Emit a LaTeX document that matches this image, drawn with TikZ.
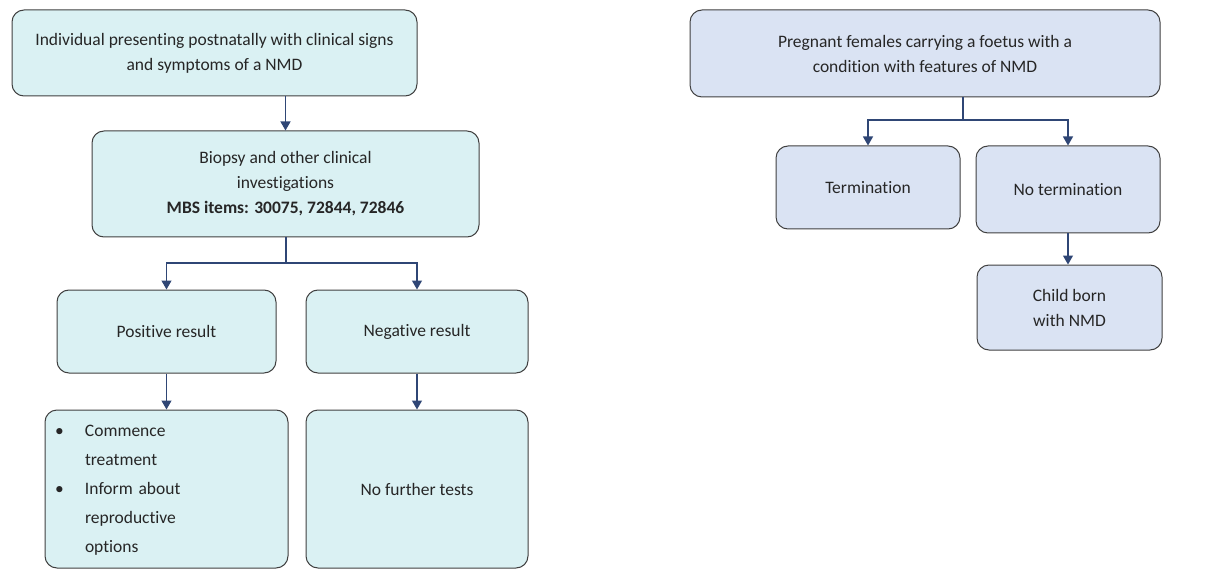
\documentclass[tikz,border=0pt]{standalone}
\usepackage{fontspec}
\setmainfont{Carlito}[Ligatures=NoCommon]
\usetikzlibrary{arrows.meta}
\definecolor{cyanfill}{HTML}{DAF1F3}
\definecolor{lavfill}{HTML}{DAE3F3}
\definecolor{boxline}{HTML}{404040}
\definecolor{arrowc}{HTML}{2F4675}
\begin{document}
\begin{tikzpicture}[x=1pt,y=-1pt,
 box/.style={draw=boxline, line width=1pt, rounded corners=12pt, align=center, font=\fontsize{17.5}{25}\selectfont, inner sep=0pt, text=black!85},
 lbox/.style={box, fill=cyanfill},
 rbox/.style={box, fill=lavfill},
 arr/.style={draw=arrowc, line width=1.2pt, -{Triangle[width=10pt,length=9pt]}},
 ln/.style={draw=arrowc, line width=1.2pt}]
\useasboundingbox (0,0) rectangle (1230,569);
% left flow
\node[lbox, minimum width=405pt, minimum height=86pt] (a) at (214.5,53) {Individual presenting postnatally with clinical signs\\and symptoms of a NMD};
\node[lbox, minimum width=387pt, minimum height=106pt] (b) at (285.5,184) {Biopsy and other clinical\\investigations\\\textbf{MBS items: 30075, 72844, 72846}};
\node[lbox, minimum width=219pt, minimum height=83pt] (pos) at (166.5,331.5) {Positive result};
\node[lbox, minimum width=222pt, minimum height=83pt] (neg) at (417,331.5) {Negative result};
\node[lbox, minimum width=243pt, minimum height=158pt, text width=223pt, align=left, inner xsep=10pt] (com) at (166.5,489)
 {\fontsize{17.5}{29}\selectfont\begin{tabular}{@{}p{30pt}@{}l@{}}• & Commence\\ & treatment\\ • & Inform about\\ & reproductive\\ & options\end{tabular}};
\node[lbox, minimum width=222pt, minimum height=158pt] (nft) at (417,489) {No further tests};
\draw[arr] (a.south -| b.north) -- (b.north);
\coordinate (ls) at (286,263);
\draw[ln] (ls |- b.south) -- (ls);
\draw[arr] (ls) -| (pos.north);
\draw[arr] (ls) -| (neg.north);
\draw[arr] (pos) -- (com.north -| pos);
\draw[arr] (neg) -- (nft.north -| neg);
% right flow
\node[rbox, minimum width=470pt, minimum height=87pt] (rt) at (925,53.5) {Pregnant females carrying a foetus with a\\condition with features of NMD};
\node[rbox, minimum width=184pt, minimum height=83pt] (term) at (868,187.5) {Termination};
\node[rbox, minimum width=184pt, minimum height=87pt] (nterm) at (1068,189.5) {No termination};
\node[rbox, minimum width=185pt, minimum height=85pt] (child) at (1069.5,307.5) {Child born\\with NMD};
\coordinate (rs) at (963,120);
\draw[ln] (rs |- rt.south) -- (rs);
\draw[arr] (rs) -| (term.north);
\draw[arr] (rs) -| (nterm.north);
\draw[arr] (nterm.south) -- (child.north -| nterm.south);
\end{tikzpicture}
\end{document}
